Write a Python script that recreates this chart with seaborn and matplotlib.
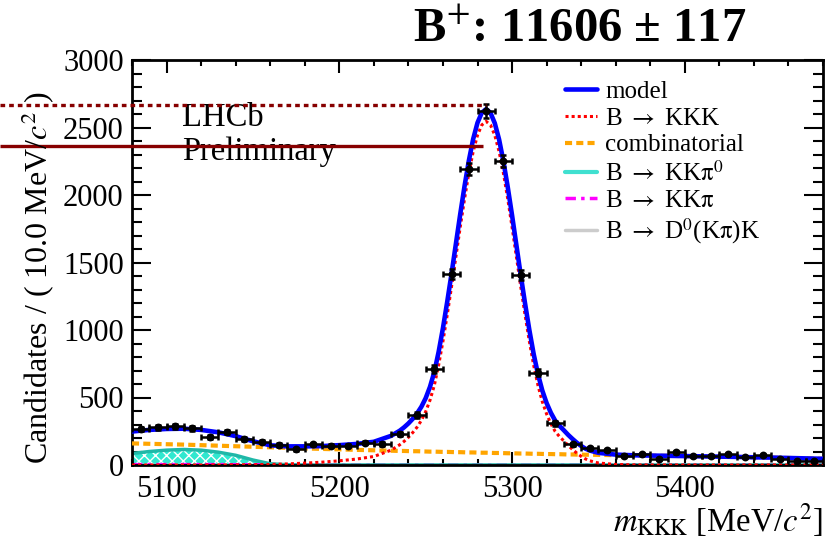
import numpy as np
import pandas as pd
import matplotlib
matplotlib.use("Agg")
import matplotlib.pyplot as plt
from matplotlib.lines import Line2D
from matplotlib.ticker import MultipleLocator
import seaborn as sns

# ---------------- data ----------------
bin_centres = [5085, 5095, 5105, 5115, 5125, 5135, 5145, 5155, 5165, 5175,
               5185, 5195, 5205, 5215, 5225, 5235, 5245, 5255, 5265, 5275,
               5285, 5295, 5305, 5315, 5325, 5335, 5345, 5355, 5365, 5375,
               5385, 5395, 5405, 5415, 5425, 5435, 5445, 5455, 5465, 5475]
counts = [267, 279, 286, 272, 210, 247, 190, 173, 148, 117,
          153, 143, 143, 165, 155, 230, 370, 711, 1415, 2193,
          2622, 2252, 1407, 684, 309, 154, 125, 111, 70, 80,
          43, 94, 64, 65, 80, 57, 74, 45, 30, 30]
count_errors = [16.3, 16.7, 16.9, 16.5, 14.5, 15.7, 13.8, 13.2, 12.2, 10.8,
                12.4, 12.0, 12.0, 12.8, 12.4, 15.2, 19.2, 26.7, 37.6, 46.8,
                51.2, 47.5, 37.5, 26.2, 17.6, 12.4, 11.2, 10.5, 8.4, 8.9,
                6.6, 9.7, 8.0, 8.1, 8.9, 7.5, 8.6, 6.7, 5.5, 5.5]
bin_half_width = 5

# fit components, sampled on a common mass grid
mass_grid = [5080, 5090, 5100, 5110, 5120, 5130, 5140, 5150, 5160, 5170,
             5180, 5190, 5200, 5210, 5220, 5230,
             5235, 5237.5, 5240, 5242.5, 5245, 5247.5, 5250, 5252.5, 5255, 5257.5,
             5260, 5262.5, 5265, 5267.5, 5270, 5272.5, 5275, 5277.5, 5280, 5282.5,
             5285, 5287.5, 5290, 5292.5, 5295, 5297.5, 5300, 5302.5, 5305, 5307.5,
             5310, 5312.5, 5315, 5317.5, 5320, 5322.5, 5325, 5327.5, 5330, 5332.5,
             5335, 5337.5, 5340, 5342.5, 5345,
             5350, 5360, 5370, 5380, 5390, 5400, 5410, 5420, 5430, 5440,
             5450, 5460, 5470, 5480]
signal_kkk = [0, 0, 0, 0, 0, 1, 1, 2, 4, 8,
              14, 21, 31, 44, 63, 110,
              150, 175, 205, 240, 280, 330, 395, 480, 590, 740,
              917, 1114, 1324, 1544, 1763, 1972, 2162, 2322, 2443, 2519,
              2545, 2519, 2443, 2322, 2162, 1972, 1763, 1544, 1324, 1114,
              917, 740, 590, 470, 378, 305, 248, 210, 178, 145,
              115, 88, 64, 45, 31,
              15, 4, 1, 0, 0, 0, 0, 0, 0, 0,
              0, 0, 0, 0]
combinatorial = [160, 157, 154, 151, 147, 143, 139, 135, 131, 127,
                 123, 119, 116, 112, 109, 106,
                 104, 104, 103, 102, 102, 101, 100, 99, 99, 98,
                 97, 97, 96, 95, 95, 94, 93, 93, 92, 91,
                 91, 90, 89, 89, 88, 87, 87, 86, 85, 85,
                 84, 83, 83, 82, 81, 81, 80, 80, 79, 78,
                 78, 77, 77, 76, 76,
                 75, 73, 71, 70, 68, 66, 64, 62, 60, 57,
                 55, 52, 49, 46]
kkpi0 = [85, 100, 110, 115, 110, 95, 72, 37, 9, 2,
         0, 0, 0, 0, 0, 0,
         0, 0, 0, 0, 0, 0, 0, 0, 0, 0,
         0, 0, 0, 0, 0, 0, 0, 0, 0, 0,
         0, 0, 0, 0, 0, 0, 0, 0, 0, 0,
         0, 0, 0, 0, 0, 0, 0, 0, 0, 0,
         0, 0, 0, 0, 0,
         0, 0, 0, 0, 0, 0, 0, 0, 0, 0,
         0, 0, 0, 0]
kkpi = [3, 3, 3, 3, 3, 3, 2, 2, 2, 1,
        1, 0, 0, 0, 0, 0,
        0, 0, 0, 0, 0, 0, 0, 0, 0, 0,
        0, 0, 0, 0, 0, 0, 0, 0, 0, 0,
        0, 0, 0, 0, 0, 0, 0, 0, 0, 0,
        0, 0, 0, 0, 0, 0, 0, 0, 0, 0,
        0, 0, 0, 0, 0,
        0, 0, 0, 0, 0, 0, 0, 0, 0, 0,
        0, 0, 0, 0]
d0k = [0, 0, 0, 0, 0, 0, 0, 0, 0, 0,
       0, 0, 0, 0, 0, 0,
       0, 0, 0, 0, 0, 0, 0, 0, 0, 0,
       0, 0, 0, 0, 0, 0, 0, 0, 0, 0,
       0, 0, 0, 0, 0, 0, 0, 0, 0, 0,
       0, 0, 0, 0, 0, 0, 0, 0, 0, 0,
       0, 0, 0, 0, 0,
       0, 0, 0, 0, 0, 0, 0, 0, 0, 0,
       0, 0, 0, 0]

# horizontal reference levels and where they stop
ref_levels = [2667, 2365]
ref_ends = [5285, 5283]

title_text = r"B$^{+}$: 11606 ± 117"
legend_labels = ["model", r"B $\rightarrow$ KKK", "combinatorial",
                 r"B $\rightarrow$ KK$\mathrm{\pi}^{0}$",
                 r"B $\rightarrow$ KK$\mathrm{\pi}$",
                 r"B $\rightarrow$ D$^{0}$(K$\mathrm{\pi}$)K"]

# ---------------- style ----------------
sns.set_theme(style="ticks")
plt.rcParams["font.family"] = ["Liberation Serif", "DejaVu Serif"]
plt.rcParams.update({
    "mathtext.fontset": "stix",
    "hatch.linewidth": 1.0,
    "text.color": "black",
    "axes.labelcolor": "black",
    "xtick.color": "black",
    "ytick.color": "black",
    "axes.edgecolor": "black",
})

BLUE = "#0000FF"
RED = "#FF0000"
ORANGE = "#FFA500"
TURQ = "#40E0D0"
FILL = "#30E8D0"
MAGENTA = "#FF00FF"
GREY = "#CCCCCC"
DARKRED = "#870000"

fig = plt.figure(figsize=(8.35, 5.42), dpi=100)
ax = fig.add_axes([132 / 835, 77 / 542, 691 / 835, 405 / 542])

curves = pd.DataFrame({
    "mass": mass_grid,
    "signal": signal_kkk,
    "comb": combinatorial,
    "kkpi0": kkpi0,
    "kkpi": kkpi,
    "d0k": d0k,
})
curves["model"] = curves[["signal", "comb", "kkpi0", "kkpi", "d0k"]].sum(axis=1)

# partially reconstructed background: hatched area
ax.fill_between(curves["mass"], 0, curves["kkpi0"], facecolor=FILL,
                edgecolor="white", hatch="xxx", linewidth=0, zorder=1)
sns.lineplot(data=curves, x="mass", y="d0k", color=GREY, lw=2.5, ax=ax, zorder=2)
sns.lineplot(data=curves, x="mass", y="kkpi", color=MAGENTA, lw=2.5,
             linestyle=(0, (3, 1.5, 1, 1.5)), ax=ax, zorder=2)
sns.lineplot(data=curves, x="mass", y="kkpi0", color="#20B8A8", lw=2.5, ax=ax, zorder=2.5)
sns.lineplot(data=curves, x="mass", y="comb", color=ORANGE, lw=3,
             linestyle=(0, (1.7, 1.0)), ax=ax, zorder=3)
sns.lineplot(data=curves, x="mass", y="signal", color=RED, lw=2.2,
             linestyle=(0, (1, 1)), ax=ax, zorder=3)
sns.lineplot(data=curves, x="mass", y="model", color=BLUE, lw=3.3, ax=ax, zorder=4)

# data points
ax.errorbar(bin_centres, counts, xerr=bin_half_width, yerr=count_errors,
            fmt="none", ecolor="black", elinewidth=1.8, capsize=2.2,
            capthick=1.8, zorder=5)
sns.scatterplot(x=bin_centres, y=counts, color="black", s=32,
                edgecolor="black", linewidth=0, ax=ax, zorder=6)

# axes
ax.set_xlim(5080, 5480)
ax.set_ylim(0, 3000)
ax.xaxis.set_major_locator(MultipleLocator(100))
ax.xaxis.set_minor_locator(MultipleLocator(20))
ax.yaxis.set_major_locator(MultipleLocator(500))
ax.yaxis.set_minor_locator(MultipleLocator(100))
ax.tick_params(which="both", direction="in", top=True, right=True,
               width=1.5, colors="black", labelsize=22)
ax.tick_params(axis="x", which="major", length=9.5, pad=7)
ax.tick_params(axis="x", which="minor", length=4)
ax.tick_params(axis="y", which="major", length=13.5, pad=6)
ax.tick_params(axis="y", which="minor", length=7)
for sp in ax.spines.values():
    sp.set_linewidth(2)
    sp.set_color("black")
ax.set_xlabel("")
ax.set_ylabel("")

fig.text(0.046, 0.487, r"Candidates / ( 10.0 MeV/$c^{2}$ )", rotation=90,
         ha="center", va="center", fontsize=23)
fig.text(0.985, 1 - 531 / 542, r"$m_{\mathrm{KKK}}$ [MeV/$c^{2}$]",
         ha="right", va="baseline", fontsize=23.5)
fig.text(0.694, 0.945, title_text, ha="center", va="center",
         fontsize=35, fontweight="bold")

ax.text(0.0724, 0.837, "LHCb", transform=ax.transAxes, fontsize=23.5,
        va="baseline", ha="left", zorder=7)
ax.text(0.0724, 0.753, "Preliminary", transform=ax.transAxes, fontsize=23.5,
        va="baseline", ha="left", zorder=7)

# reference levels starting at the left edge of the figure
x_left = ax.transData.inverted().transform(fig.transFigure.transform((0, 0)))[0]
ax.hlines(ref_levels[0], x_left, ref_ends[0], colors=DARKRED, lw=2.4,
          linestyles=[(0, (1.4, 1.2))], clip_on=False, zorder=8)
ax.hlines(ref_levels[1], x_left, ref_ends[1], colors=DARKRED, lw=2.4,
          clip_on=False, zorder=8)

handles = [
    Line2D([], [], color=BLUE, lw=3.3),
    Line2D([], [], color=RED, lw=2.2, linestyle=(0, (1, 1))),
    Line2D([], [], color=ORANGE, lw=3, linestyle=(0, (1.7, 1.0))),
    Line2D([], [], color=TURQ, lw=3),
    Line2D([], [], color=MAGENTA, lw=2.5, linestyle=(0, (3, 1.5, 1, 1.5))),
    Line2D([], [], color=GREY, lw=2.5),
]
ax.legend(handles, legend_labels, loc="upper left",
          bbox_to_anchor=(0.6266, 0.95), frameon=False, fontsize=18,
          handlelength=1.3, handletextpad=0.3, labelspacing=0.17,
          borderpad=0, borderaxespad=0)

fig.savefig("out.png", dpi=100)
